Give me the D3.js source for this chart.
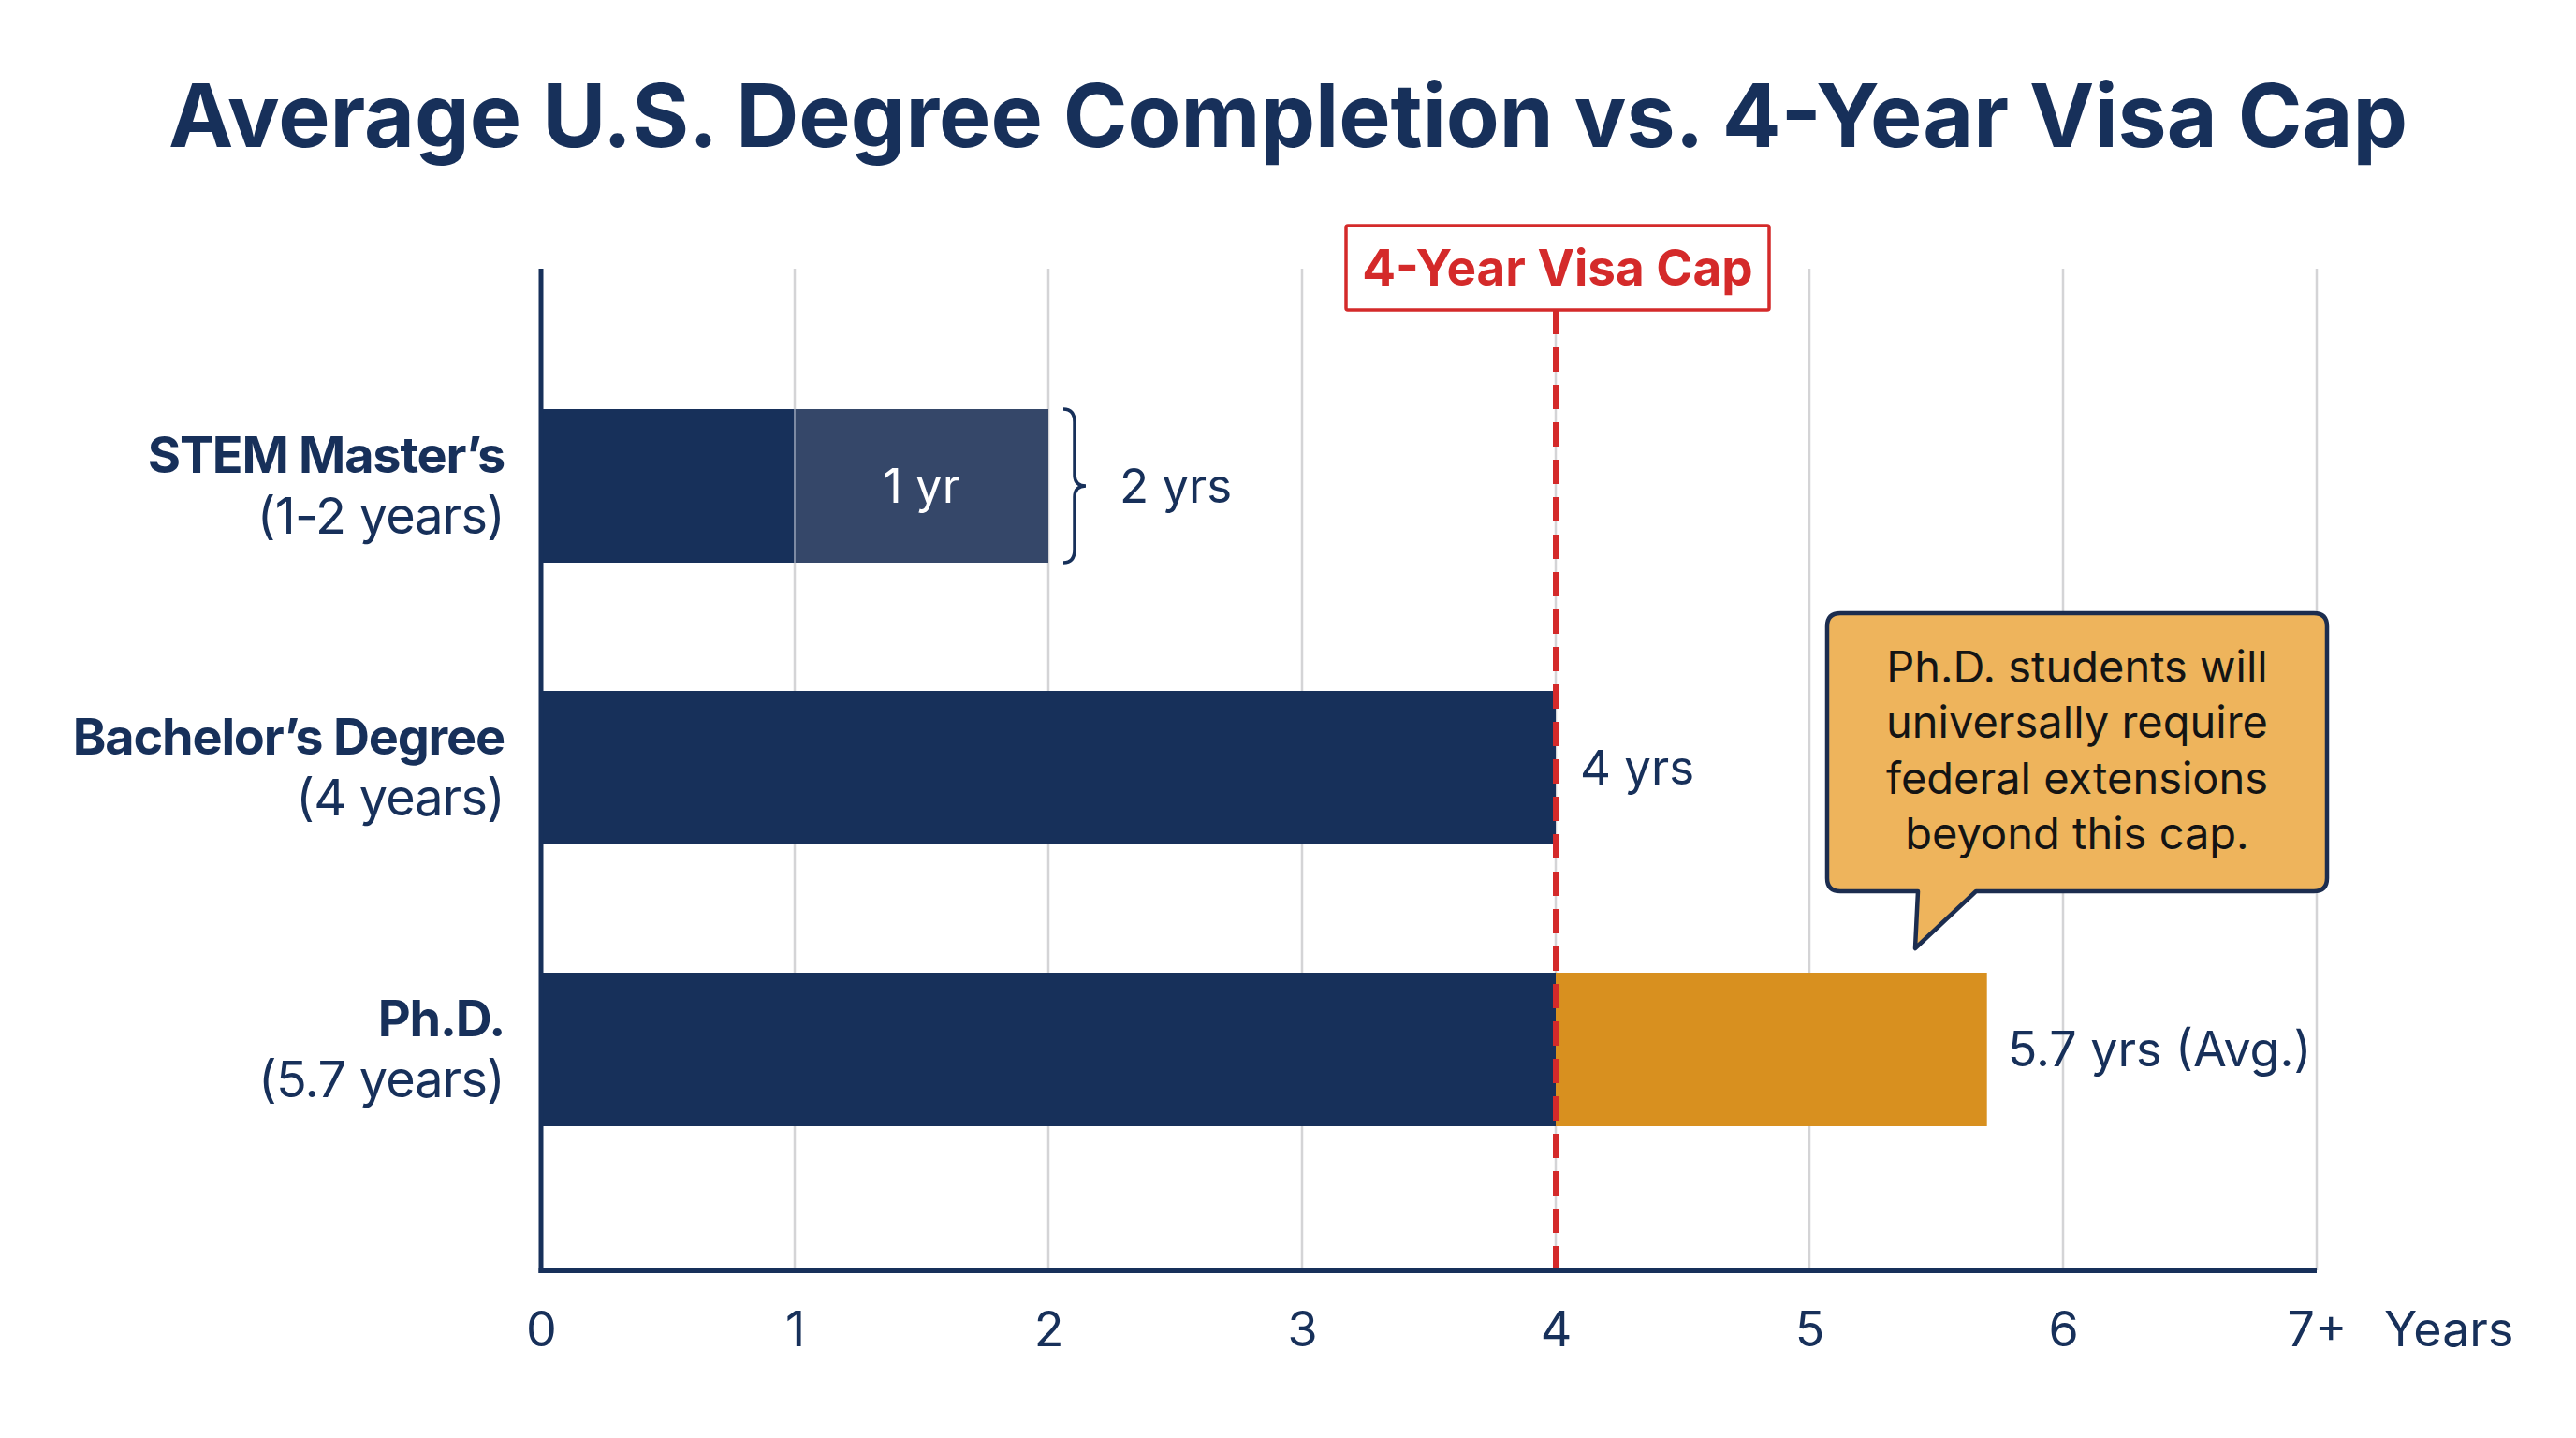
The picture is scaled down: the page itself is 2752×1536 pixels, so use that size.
<!DOCTYPE html>
<html>
<head>
<meta charset="utf-8">
<script src="https://cdn.jsdelivr.net/npm/d3@7"></script>
<style>
  html, body { margin: 0; padding: 0; background: #ffffff; }
  svg { display: block; }
</style>
</head>
<body>
<svg id="chart" width="2752" height="1536"></svg>
<script>
// ---------------- DATA ----------------
const categories = ["STEM Master\u2019s", "Bachelor\u2019s Degree", "Ph.D."];
const subLabels = ["(1-2 years)", "(4 years)", "(5.7 years)"];
const baseYears = [1, 4, 4];          // dark navy segment
const extraYears = [1, 0, 1.7];       // second segment (light navy / orange)
const extraKinds = ["light", "none", "orange"];
const extraLabels = ["1 yr", "", ""];
const valueLabels = ["2 yrs", "4 yrs", "5.7 yrs (Avg.)"];
const capYears = 4;
const capLabel = "4-Year Visa Cap";
const tickValues = [0, 1, 2, 3, 4, 5, 6, 7];
const tickLabels = ["0", "1", "2", "3", "4", "5", "6", "7+"];
const axisUnit = "Years";
const calloutLines = ["Ph.D. students will", "universally require", "federal extensions", "beyond this cap."];
const titleText = "Average U.S. Degree Completion vs. 4-Year Visa Cap";

// ---------------- STYLE ----------------
const NAVY = "#17305a", LIGHT = "#354769", ORANGE = "#d8901f", RED = "#d42a2a",
      GRID = "#d4d4d6", TEXT = "#17305a", CALLOUT = "#eeb45c";
const FONT = "Inter, 'Noto Sans', sans-serif";

const svg = d3.select("#chart");
const W = 2752, H = 1536;
const plotTop = 287, plotBottom = 1357, plotLeft = 578, plotRight = 2475;

const x = d3.scaleLinear().domain([0, 7]).range([plotLeft, plotRight]);
const y = d3.scalePoint().domain(categories).range([519, 1121]);
const barH = 164;

// Title
const title = svg.append("text")
  .attr("x", W / 2).attr("y", 157)
  .attr("text-anchor", "middle")
  .attr("font-family", FONT).attr("font-weight", 700)
  .attr("font-size", 94).attr("fill", TEXT)
  .text(titleText);
title.attr("textLength", 2392).attr("lengthAdjust", "spacingAndGlyphs");

// Gridlines
svg.append("g").selectAll("line").data(tickValues.filter(d => d > 0)).join("line")
  .attr("x1", d => x(d)).attr("x2", d => x(d))
  .attr("y1", plotTop).attr("y2", plotBottom)
  .attr("stroke", GRID).attr("stroke-width", 2.5);

// Bars
const rows = categories.map((c, i) => ({ c, i }));
const gBars = svg.append("g");
gBars.selectAll("rect.base").data(rows).join("rect")
  .attr("class", "base")
  .attr("x", x(0)).attr("y", d => y(d.c) - barH / 2)
  .attr("width", d => x(baseYears[d.i]) - x(0)).attr("height", barH)
  .attr("fill", NAVY);
gBars.selectAll("rect.extra").data(rows.filter(d => extraYears[d.i] > 0)).join("rect")
  .attr("class", "extra")
  .attr("x", d => x(baseYears[d.i])).attr("y", d => y(d.c) - barH / 2)
  .attr("width", d => x(baseYears[d.i] + extraYears[d.i]) - x(baseYears[d.i])).attr("height", barH)
  .attr("fill", d => extraKinds[d.i] === "light" ? LIGHT : ORANGE);
// thin separator between navy segments
gBars.selectAll("line.sep").data(rows.filter(d => extraKinds[d.i] === "light")).join("line")
  .attr("x1", d => x(baseYears[d.i])).attr("x2", d => x(baseYears[d.i]))
  .attr("y1", d => y(d.c) - barH / 2).attr("y2", d => y(d.c) + barH / 2)
  .attr("stroke", "#7d8aa3").attr("stroke-width", 2);

// inner segment label ("1 yr")
gBars.selectAll("text.inner").data(rows.filter(d => extraLabels[d.i])).join("text")
  .attr("x", d => x(baseYears[d.i] + extraYears[d.i] / 2)).attr("y", d => y(d.c) + 18)
  .attr("text-anchor", "middle").attr("font-family", FONT).attr("font-size", 51)
  .attr("fill", "#ffffff").text(d => extraLabels[d.i]);

// Bracket for master's
rows.filter(d => extraKinds[d.i] === "light").forEach(d => {
  const xe = x(baseYears[d.i] + extraYears[d.i]);
  const t = y(d.c) - barH / 2, b = y(d.c) + barH / 2, m = y(d.c);
  const x0 = xe + 16, x1 = xe + 28, x2 = xe + 40;
  const p = `M${x0},${t} Q${x1},${t} ${x1},${t + 14} L${x1},${m - 12} Q${x1},${m} ${x2},${m} ` +
            `Q${x1},${m} ${x1},${m + 12} L${x1},${b - 14} Q${x1},${b} ${x0},${b}`;
  svg.append("path").attr("d", p).attr("fill", "none").attr("stroke", NAVY).attr("stroke-width", 3.5);
});

// Value labels with white backing
const valueOffset = [76, 26, 22];
rows.forEach(d => {
  const total = baseYears[d.i] + extraYears[d.i];
  const tx = x(total) + valueOffset[d.i];
  const t = svg.append("text")
    .attr("x", tx).attr("y", y(d.c) + 18)
    .attr("font-family", FONT).attr("font-size", d.i === 2 ? 52 : 51).attr("fill", TEXT)
    .text(valueLabels[d.i]);
  if (d.i === 2) {
    const bb = t.node().getBBox();
    svg.insert("rect", "text").attr("x", bb.x - 10).attr("y", y(d.c) - 41)
      .attr("width", Math.max(bb.width + 20, plotRight + 6 - bb.x + 10)).attr("height", 82)
      .attr("fill", "#ffffff");
  }
});

// Category labels
const gCat = svg.append("g");
rows.forEach(d => {
  gCat.append("text").attr("x", 539).attr("y", y(d.c) - 14)
    .attr("text-anchor", "end").attr("font-family", FONT).attr("font-weight", 700)
    .attr("font-size", 54).attr("fill", TEXT).attr("letter-spacing", -1.2).text(categories[d.i]);
  gCat.append("text").attr("x", 539).attr("y", y(d.c) + 51)
    .attr("text-anchor", "end").attr("font-family", FONT).attr("font-weight", 400)
    .attr("font-size", 54).attr("fill", TEXT).attr("letter-spacing", -0.8).text(subLabels[d.i]);
});

// Cap line
svg.append("line")
  .attr("x1", x(capYears)).attr("x2", x(capYears))
  .attr("y1", 331).attr("y2", plotBottom)
  .attr("stroke", RED).attr("stroke-width", 6).attr("stroke-dasharray", "26,14");

// Axes lines
svg.append("line").attr("x1", plotLeft).attr("x2", plotLeft)
  .attr("y1", plotTop).attr("y2", plotBottom + 3)
  .attr("stroke", NAVY).attr("stroke-width", 5);
svg.append("line").attr("x1", plotLeft - 2.5).attr("x2", plotRight)
  .attr("y1", plotBottom).attr("y2", plotBottom)
  .attr("stroke", NAVY).attr("stroke-width", 6);

// Tick labels via axis
const xAxis = d3.axisBottom(x).tickValues(tickValues)
  .tickFormat((d, i) => tickLabels[i]).tickSize(0);
const gAx = svg.append("g").attr("transform", `translate(0,${plotBottom})`).call(xAxis);
gAx.select(".domain").remove();
gAx.selectAll("text").attr("y", 81).attr("dy", 0)
  .attr("font-family", FONT).attr("font-size", 52).attr("fill", TEXT);
svg.append("text").attr("x", 2547).attr("y", 1438)
  .attr("font-family", FONT).attr("font-size", 52).attr("fill", TEXT).text(axisUnit);

// Cap label box
svg.append("rect").attr("x", 1438).attr("y", 241).attr("width", 452).attr("height", 90)
  .attr("fill", "#ffffff").attr("stroke", RED).attr("stroke-width", 3.5).attr("rx", 2);
svg.append("text").attr("x", 1664).attr("y", 305)
  .attr("text-anchor", "middle").attr("font-family", FONT).attr("font-weight", 700)
  .attr("font-size", 53).attr("fill", RED).text(capLabel);

// Callout
{
  const L = 1952, R = 2486, T = 655, B = 952, r = 14;
  const p = `M${L + r},${T} H${R - r} Q${R},${T} ${R},${T + r} V${B - r} Q${R},${B} ${R - r},${B} ` +
            `H2111 L2046,1013 L2049,${B} H${L + r} Q${L},${B} ${L},${B - r} V${T + r} Q${L},${T} ${L + r},${T} Z`;
  svg.append("path").attr("d", p).attr("fill", CALLOUT).attr("stroke", "#1c2d4f")
    .attr("stroke-width", 4.5).attr("stroke-linejoin", "round");
  svg.append("g").selectAll("text").data(calloutLines).join("text")
    .attr("x", 2219).attr("y", (d, i) => 729 + i * 59.3)
    .attr("text-anchor", "middle").attr("font-family", FONT).attr("font-size", 47)
    .attr("fill", "#141414").text(d => d);
}
</script>
</body>
</html>
